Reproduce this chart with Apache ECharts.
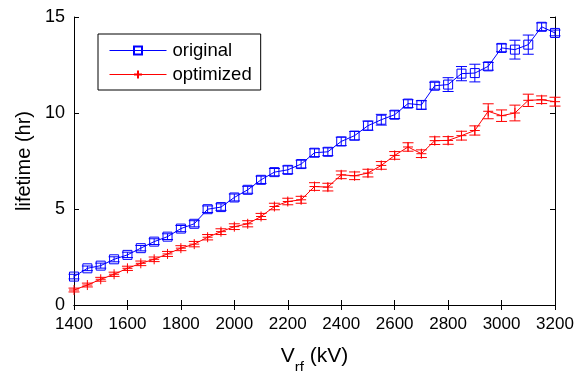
<!DOCTYPE html>
<html>
<head>
<meta charset="utf-8">
<script src="https://cdn.jsdelivr.net/npm/echarts@6/dist/echarts.min.js"></script>
<style>html,body{margin:0;padding:0;background:#fff}#c{width:583px;height:371px}</style>
</head>
<body>
<div id="c"></div>
<script>
const voltages = [1400,1450,1500,1550,1600,1650,1700,1750,1800,1850,1900,1950,2000,2050,2100,2150,2200,2250,2300,2350,2400,2450,2500,2550,2600,2650,2700,2750,2800,2850,2900,2950,3000,3050,3100,3150,3200];
const original = [1.48,1.91,2.05,2.38,2.61,2.96,3.30,3.56,3.98,4.23,4.99,5.10,5.60,6.00,6.52,6.92,7.04,7.34,7.93,7.98,8.52,8.82,9.34,9.65,9.91,10.49,10.42,11.42,11.48,12.05,12.08,12.43,13.39,13.30,13.56,14.49,14.17];
const originalErr = [0.12,0.12,0.13,0.13,0.14,0.14,0.15,0.15,0.16,0.16,0.17,0.17,0.18,0.18,0.19,0.19,0.2,0.2,0.2,0.2,0.22,0.22,0.24,0.28,0.2,0.2,0.22,0.18,0.36,0.37,0.46,0.2,0.2,0.49,0.5,0.2,0.15];
const optimized = [0.78,1.04,1.34,1.60,1.91,2.17,2.38,2.66,2.96,3.17,3.53,3.82,4.08,4.23,4.61,5.13,5.39,5.48,6.17,6.14,6.78,6.73,6.87,7.27,7.79,8.23,7.88,8.56,8.57,8.82,9.09,10.09,9.86,10.00,10.66,10.69,10.59];
const optimizedErr = [0.1,0.1,0.1,0.11,0.11,0.12,0.12,0.13,0.13,0.14,0.14,0.15,0.15,0.16,0.16,0.17,0.17,0.18,0.2,0.2,0.2,0.2,0.2,0.2,0.2,0.22,0.2,0.2,0.2,0.23,0.24,0.39,0.3,0.41,0.32,0.2,0.23];
const xTicks = [1400,1600,1800,2000,2200,2400,2600,2800,3000,3200];
const yTicks = [0,5,10,15];

const FONT = "'Liberation Sans', Arial, sans-serif";
const BLUE = '#0000ff', RED = '#ff0000';

function errData(vals, errs){ return voltages.map((v,i)=>[v, vals[i], errs[i]]); }
function errRender(color){
  return function(params, api){
    const x = api.value(0), y = api.value(1), e = api.value(2);
    const lo = api.coord([x, y - e]), hi = api.coord([x, y + e]);
    const w = 5.5;
    const st = {stroke: color, lineWidth: 1, fill: null};
    return {type:'group', children:[
      {type:'line', shape:{x1:lo[0], y1:lo[1], x2:hi[0], y2:hi[1]}, style:st},
      {type:'line', shape:{x1:lo[0]-w, y1:lo[1], x2:lo[0]+w, y2:lo[1]}, style:st},
      {type:'line', shape:{x1:hi[0]-w, y1:hi[1], x2:hi[0]+w, y2:hi[1]}, style:st}
    ]};
  };
}

const axisCommon = {
  axisLine:{show:true, lineStyle:{color:'#000', width:1}},
  axisTick:{show:true, inside:true, length:5, lineStyle:{color:'#000'}},
  splitLine:{show:false}
};

const chart = echarts.init(document.getElementById('c'), null, {renderer:'canvas'});
chart.setOption({
  animation:false,
  backgroundColor:'#fff',
  textStyle:{fontFamily:FONT},
  grid:{left:74, right:28, top:17, bottom:66, containLabel:false, outerBoundsMode:'none'},
  legend:{
    orient:'vertical', left:98, top:34,
    itemWidth:57, itemHeight:10, itemGap:5,
    padding:[7,9,6,11],
    borderColor:'#000', borderWidth:1, backgroundColor:'#fff',
    lineStyle:{width:1},
    textStyle:{fontFamily:FONT, fontSize:18.5, lineHeight:19, color:'#000', padding:[0,0,0,1]},
    data:['original','optimized']
  },
  xAxis:[
    Object.assign({type:'value', min:1400, max:3200, interval:200, position:'bottom',
      axisLabel:{color:'#000', fontSize:17, fontFamily:FONT, margin:11, formatter:v=>xTicks.includes(v)?String(v):''},
      name:'{v|V}{s|rf}{v| (kV)}', nameLocation:'middle', nameGap:33,
      nameTextStyle:{rich:{v:{fontSize:21, fontFamily:FONT, color:'#000'}, s:{fontSize:15, fontFamily:FONT, color:'#000', padding:[22,0,0,0]}}}
    }, axisCommon),
    Object.assign({type:'value', min:1400, max:3200, interval:200, position:'top', axisLabel:{show:false}}, axisCommon)
  ],
  yAxis:[
    Object.assign({type:'value', min:0, max:15, interval:5, position:'left',
      axisLabel:{color:'#000', fontSize:18, fontFamily:FONT, margin:9, formatter:v=>yTicks.includes(v)?String(v):''},
      name:'lifetime (hr)', nameLocation:'middle', nameGap:39, nameRotate:90,
      nameTextStyle:{fontSize:20, fontFamily:FONT, color:'#000'}
    }, axisCommon),
    Object.assign({type:'value', min:0, max:15, interval:5, position:'right', axisLabel:{show:false}}, axisCommon)
  ],
  series:[
    {name:'original', type:'line', data:voltages.map((v,i)=>[v, original[i]]),
      symbol:'rect', symbolSize:9, showAllSymbol:true,
      lineStyle:{color:BLUE, width:1},
      itemStyle:{color:'rgba(0,0,0,0)', borderColor:BLUE, borderWidth:1},
      emphasis:{disabled:true}, z:3},
    {name:'originalErr', type:'custom', data:errData(original, originalErr),
      renderItem:errRender(BLUE), encode:{x:0, y:1}, z:2, silent:true},
    {name:'optimized', type:'line', data:voltages.map((v,i)=>[v, optimized[i]]),
      symbol:'path://M0,5L10,5M5,0L5,10', symbolSize:10, symbolKeepAspect:true, showAllSymbol:true,
      lineStyle:{color:RED, width:1},
      itemStyle:{color:RED, borderColor:RED, borderWidth:1},
      emphasis:{disabled:true}, z:3},
    {name:'optimizedErr', type:'custom', data:errData(optimized, optimizedErr),
      renderItem:errRender(RED), encode:{x:0, y:1}, z:2, silent:true}
  ]
});
</script>
</body>
</html>
